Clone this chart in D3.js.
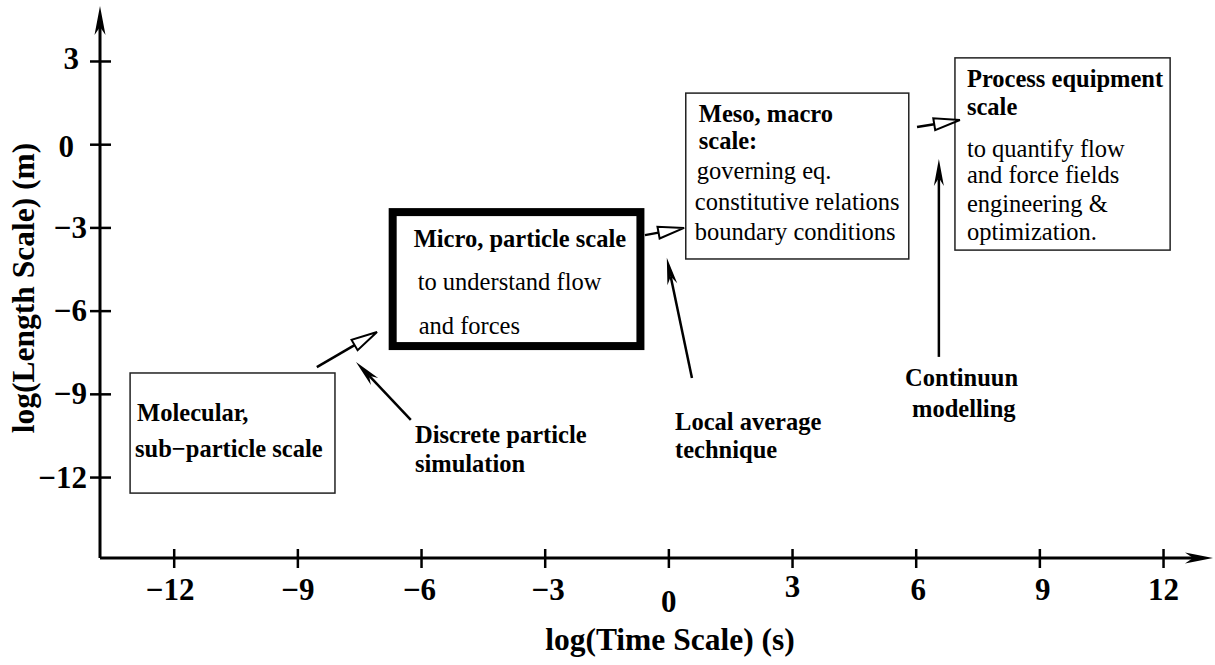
<!DOCTYPE html>
<html><head><meta charset="utf-8">
<script src="https://cdn.jsdelivr.net/npm/d3@7"></script>
<style>
body{margin:0;background:#fff}
text{font-family:"Liberation Serif","Times New Roman",Times,serif;fill:#000}
</style>
</head><body>
<svg id="chart" width="1215" height="665"></svg>
<script>
// ---------- data (log10 units) ----------
const xTicks = [-12, -9, -6, -3, 0, 3, 6, 9, 12];
const yTicks = [3, 0, -3, -6, -9, -12];
const xTitle = "log(Time Scale) (s)";
const yTitle = "log(Length Scale) (m)";

// scale boxes: [log time from, to], [log length top, bottom]
const boxNames = ["molecular", "micro", "meso", "process"];
const boxT0 = [-13.07, -6.70, 0.41, 6.94];
const boxT1 = [-8.10, -0.69, 5.82, 12.16];
const boxL0 = [-8.23, -2.43, 1.86, 3.13];
const boxL1 = [-12.56, -7.26, -4.12, -3.80];
const boxTexts = [
  [["Molecular,", 1], ["sub\u2212particle scale", 1]],
  [["Micro, particle scale", 1], ["to understand flow", 0], ["and forces", 0]],
  [["Meso, macro", 1], ["scale:", 1], ["governing eq.", 0], ["constitutive relations", 0], ["boundary conditions", 0]],
  [["Process equipment", 1], ["scale", 1], ["to quantify flow", 0], ["and force fields", 0], ["engineering &", 0], ["optimization.", 0]]
];

// arrows: from (t,l) to (t,l); kind 'open' = hollow head, 'solid' = filled head
const arrowT0 = [-8.54, -6.26, -0.58, 0.56, 6.02, 6.55];
const arrowL0 = [-8.02, -9.92, -3.26, -8.41, 0.64, -7.65];
const arrowT1 = [-7.08, -7.59, 0.37, -0.05, 7.06, 6.55];
const arrowL1 = [-6.75, -7.83, -3.00, -4.08, 0.89, -0.52];
const arrowKind = ["open", "solid", "open", "solid", "open", "solid"];

// free method labels anchored at (t,l)
const methodLines = [["Discrete particle", "simulation"], ["Local average", "technique"], ["Continuun", "modelling"]];
const methodT = [-6.16, 0.15, 5.73];
const methodL = [-10.75, -10.28, -8.70];

// ---------- layout ----------
const W = 1215, H = 665;
const axisT = [-13.8, 13.2], axisL = [-14.9, 5.0];
const svg = d3.select("#chart");
const x = d3.scaleLinear().domain(axisT).range([100, 1213]);
const y = d3.scaleLinear().domain(axisL).range([558, 6]);

const boxLayout = [
  {pad: [7, 5], base: [48, 84], stroke: 1.5},
  {pad: [21, 25, 26], base: [35, 78, 122], stroke: 8},
  {pad: [13, 13, 11, 9, 9], base: [29, 56, 86, 117, 147], stroke: 1.5},
  {pad: [12, 12, 12, 12, 12, 12], base: [29, 57, 99, 125, 154, 182], stroke: 1.5}
];
const methodDx = [[0, 0], [0, 0], [0, 7]];
const methodGap = [29, 28, 31];

// axes lines
const g = svg.append("g");
g.append("line").attr("x1", x(axisT[0])).attr("y1", y(axisL[0]))
  .attr("x2", x(axisT[1]) - 20).attr("y2", y(axisL[0]))
  .attr("stroke", "#000").attr("stroke-width", 3);
g.append("line").attr("x1", x(axisT[0])).attr("y1", y(axisL[0]))
  .attr("x2", x(axisT[0])).attr("y2", y(axisL[1]) + 20)
  .attr("stroke", "#000").attr("stroke-width", 3);

function solidHead(x2, y2, ang, L, w, notch) {
  const c = Math.cos(ang), s = Math.sin(ang);
  const bx = x2 - L * c, by = y2 - L * s;
  const p = [
    [x2, y2],
    [bx - w * s, by + w * c],
    [x2 - (L - notch) * c, y2 - (L - notch) * s],
    [bx + w * s, by - w * c]
  ];
  return "M" + p.map(q => q.join(",")).join("L") + "Z";
}
// axis arrow heads
g.append("path").attr("d", solidHead(x(axisT[1]), y(axisL[0]), 0, 28, 5.5, 8)).attr("fill", "#000");
g.append("path").attr("d", solidHead(x(axisT[0]), y(axisL[1]), -Math.PI / 2, 29, 5.5, 8)).attr("fill", "#000");

// ticks
const fmt = v => (v < 0 ? "\u2212" + Math.abs(v) : String(v));
const xNudge = {"-12": [-4, 0], "-6": [-2, 0], "-3": [3, 0], "0": [0, 12], "3": [0, -3], "6": [2, 0], "9": [3, 0]};
const yNudge = {"3": [-8, -2], "0": [-13, 2]};
const xt = g.append("g");
xTicks.forEach(v => {
  xt.append("line").attr("x1", x(v)).attr("x2", x(v)).attr("y1", y(axisL[0]) - 9).attr("y2", y(axisL[0]) + 10)
    .attr("stroke", "#000").attr("stroke-width", 2.5);
  const n = xNudge[v] || [0, 0];
  xt.append("text").attr("x", x(v) + n[0]).attr("y", 600 + n[1]).attr("text-anchor", "middle")
    .attr("font-size", 31).attr("font-weight", "bold").text(fmt(v));
});
yTicks.forEach(v => {
  xt.append("line").attr("y1", y(v)).attr("y2", y(v)).attr("x1", x(axisT[0]) - 10).attr("x2", x(axisT[0]) + 11)
    .attr("stroke", "#000").attr("stroke-width", 2.5);
  const n = yNudge[v] || [0, 0];
  xt.append("text").attr("x", 87 + n[0]).attr("y", y(v) + 10 + n[1]).attr("text-anchor", "end")
    .attr("font-size", 31).attr("font-weight", "bold").text(fmt(v));
});

// axis titles
svg.append("text").attr("x", 670).attr("y", 650).attr("text-anchor", "middle")
  .attr("font-size", 31.5).attr("font-weight", "bold").text(xTitle);
svg.append("text").attr("transform", "translate(34,288) rotate(-90)").attr("text-anchor", "middle")
  .attr("font-size", 31.5).attr("font-weight", "bold").text(yTitle);

// boxes
boxNames.forEach((name, i) => {
  const lay = boxLayout[i];
  const x0 = x(boxT0[i]), x1 = x(boxT1[i]), y0 = y(boxL0[i]), y1 = y(boxL1[i]);
  svg.append("rect").attr("class", "box-" + name)
    .attr("x", x0).attr("y", y0).attr("width", x1 - x0).attr("height", y1 - y0)
    .attr("fill", "#fff").attr("stroke", lay.stroke > 2 ? "#000" : "#222").attr("stroke-width", lay.stroke);
  boxTexts[i].forEach((ln, j) => {
    svg.append("text").attr("x", x0 + lay.pad[j]).attr("y", y0 + lay.base[j])
      .attr("font-size", 24.5).attr("font-weight", ln[1] ? "bold" : "normal").text(ln[0]);
  });
});

// arrows
arrowKind.forEach((k, i) => {
  const x1 = x(arrowT0[i]), y1 = y(arrowL0[i]), x2 = x(arrowT1[i]), y2 = y(arrowL1[i]);
  const ang = Math.atan2(y2 - y1, x2 - x1), c = Math.cos(ang), s = Math.sin(ang);
  if (k === "open") {
    const L = 26, w = 6;
    svg.append("line").attr("x1", x1).attr("y1", y1).attr("x2", x2 - L * c).attr("y2", y2 - L * s)
      .attr("stroke", "#000").attr("stroke-width", 2.5);
    const bx = x2 - L * c, by = y2 - L * s;
    svg.append("path").attr("d", `M${x2},${y2}L${bx - w * s},${by + w * c}L${bx + w * s},${by - w * c}Z`)
      .attr("fill", "#fff").attr("stroke", "#000").attr("stroke-width", 2).attr("stroke-linejoin", "miter");
  } else {
    const L = 27, w = 5, notch = 8;
    svg.append("line").attr("x1", x1).attr("y1", y1).attr("x2", x2 - (L - notch) * c).attr("y2", y2 - (L - notch) * s)
      .attr("stroke", "#000").attr("stroke-width", 2.5);
    svg.append("path").attr("d", solidHead(x2, y2, ang, L, w, notch)).attr("fill", "#000");
  }
});

// method labels
methodLines.forEach((lines, i) => {
  lines.forEach((t, j) => {
    svg.append("text").attr("x", x(methodT[i]) + methodDx[i][j]).attr("y", y(methodL[i]) + j * methodGap[i])
      .attr("font-size", 24.5).attr("font-weight", "bold").text(t);
  });
});
</script>
</body></html>
